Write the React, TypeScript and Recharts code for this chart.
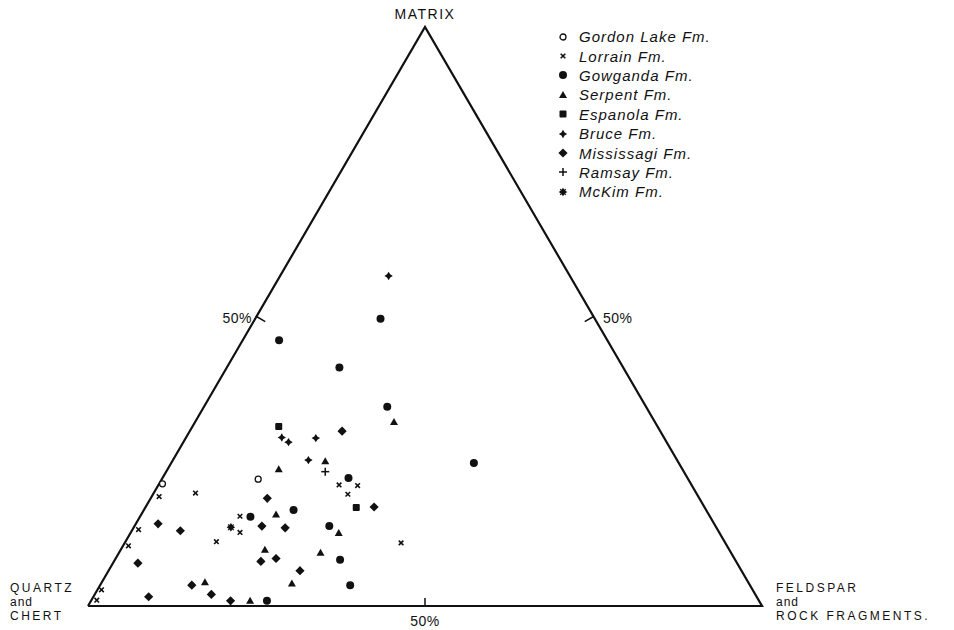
import { ScatterChart, Scatter, XAxis, YAxis, ReferenceLine, Customized } from 'recharts';

// compositions as [feldspar+rock fragments %, matrix %]; quartz+chert = rest
const GORDON_LAKE = [[0.5, 21.1], [14.3, 21.9]];
const LORRAIN = [
  [0.8, 1.0], [0.6, 2.8], [0.8, 10.4], [0.9, 13.2], [1.1, 18.9], [6.2, 19.5], [13.5, 11.1],
  [14.8, 15.5], [16.2, 12.7], [26.8, 20.9], [29.6, 20.8], [28.9, 19.3], [41.0, 10.9],
];
const GOWGANDA = [
  [18.6, 49.6], [5.4, 45.9], [16.7, 41.2], [27.2, 34.4], [44.9, 24.7], [27.6, 22.1],
  [22.2, 16.6], [16.4, 15.4], [28.9, 13.8], [33.4, 8.0], [37.1, 3.6], [26.1, 0.9],
];
const SERPENT = [
  [29.5, 31.8], [22.7, 25.0], [16.5, 23.6], [20.0, 15.8], [30.9, 12.6],
  [21.4, 9.7], [29.9, 9.2], [28.3, 3.9], [15.3, 4.1], [23.6, 0.9],
];
const ESPANOLA = [[12.8, 31.0], [31.3, 17.0]];
const BRUCE = [[16.1, 57.0], [14.2, 29.1], [15.6, 28.3], [19.3, 29.0], [20.1, 25.2]];
const MISSISSAGI = [
  [22.6, 30.2], [33.9, 17.1], [17.3, 18.6], [18.9, 13.8], [22.5, 13.5], [21.8, 7.7],
  [23.8, 8.2], [28.4, 6.1], [17.3, 2.0], [20.7, 0.9], [3.3, 14.2], [7.2, 13.0],
  [3.7, 7.4], [8.2, 1.6], [13.6, 3.6],
];
const RAMSAY = [[23.6, 23.2]];
const MCKIM = [[14.4, 13.6]];

const CORNERS = [[0, 0], [0, 100], [100, 0], [0, 0]];

// ternary -> plot coords (x along base, y = matrix)
const toXY = (pts: number[][]) => pts.map(([f, m]) => ({ x: f + m / 2, y: m }));

const FONT = '"Liberation Sans", Arial, sans-serif';

const OpenCircle = ({ cx, cy }: any) => <circle cx={cx} cy={cy} r={3} fill="#fff" stroke="#111" strokeWidth={1.3} />;
const Cross = ({ cx, cy }: any) => (
  <g stroke="#111" strokeWidth={1.6}>
    <line x1={cx - 2.3} y1={cy - 2.3} x2={cx + 2.3} y2={cy + 2.3} />
    <line x1={cx - 2.3} y1={cy + 2.3} x2={cx + 2.3} y2={cy - 2.3} />
  </g>
);
const Dot = ({ cx, cy }: any) => <circle cx={cx} cy={cy} r={4} fill="#111" />;
const Tri = ({ cx, cy }: any) => (
  <path d={`M${cx},${cy - 4} L${cx + 4},${cy + 3} L${cx - 4},${cy + 3} Z`} fill="#111" />
);
const Sq = ({ cx, cy }: any) => <rect x={cx - 3.5} y={cy - 3.5} width={7} height={7} rx={1} fill="#111" />;
const star = (cx: number, cy: number, r: number, i: number) =>
  `M${cx},${cy - r} L${cx + i},${cy - i} L${cx + r},${cy} L${cx + i},${cy + i} L${cx},${cy + r} L${cx - i},${cy + i} L${cx - r},${cy} L${cx - i},${cy - i} Z`;
const SmallStar = ({ cx, cy }: any) => <path d={star(cx, cy, 4.2, 1.6)} fill="#111" />;
const Diamond = ({ cx, cy }: any) => <path d={star(cx, cy, 4.6, 2.3)} fill="#111" />;
const Plus = ({ cx, cy }: any) => (
  <g stroke="#111" strokeWidth={1.5}>
    <line x1={cx - 4} y1={cy} x2={cx + 4} y2={cy} />
    <line x1={cx} y1={cy - 4} x2={cx} y2={cy + 4} />
  </g>
);
const Asterisk = ({ cx, cy }: any) => (
  <g>
    <path d={star(cx, cy, 4.2, 1.8)} fill="#111" />
    <g stroke="#111" strokeWidth={1.2}>
      <line x1={cx - 2.8} y1={cy - 2.8} x2={cx + 2.8} y2={cy + 2.8} />
      <line x1={cx - 2.8} y1={cy + 2.8} x2={cx + 2.8} y2={cy - 2.8} />
    </g>
  </g>
);
const Nothing = () => <g />;

const SERIES = [
  { name: 'Gordon Lake Fm.', data: GORDON_LAKE, shape: OpenCircle },
  { name: 'Lorrain Fm.', data: LORRAIN, shape: Cross },
  { name: 'Gowganda Fm.', data: GOWGANDA, shape: Dot },
  { name: 'Serpent Fm.', data: SERPENT, shape: Tri },
  { name: 'Espanola Fm.', data: ESPANOLA, shape: Sq },
  { name: 'Bruce Fm.', data: BRUCE, shape: SmallStar },
  { name: 'Mississagi Fm.', data: MISSISSAGI, shape: Diamond },
  { name: 'Ramsay Fm.', data: RAMSAY, shape: Plus },
  { name: 'McKim Fm.', data: MCKIM, shape: Asterisk },
];

const LegendBox = () => (
  <div
    style={{
      position: 'absolute', left: 556, top: 27, width: 220,
      fontFamily: FONT, fontSize: 15, fontStyle: 'italic', letterSpacing: 1, color: '#111',
    }}
  >
    {SERIES.map(s => {
      const Shape = s.shape;
      return (
        <div key={s.name} style={{ display: 'flex', alignItems: 'center', height: 19.4 }}>
          <svg width={14} height={14} style={{ marginRight: 9 }}>
            <Shape cx={7} cy={7} />
          </svg>
          <span>{s.name}</span>
        </div>
      );
    })}
  </div>
);

const Labels = () => (
  <g fontFamily={FONT} fontSize={12} fill="#111" letterSpacing={2.5}>
    <text x={425} y={19} textAnchor="middle" fontSize={14} letterSpacing={1.5}>MATRIX</text>
    <text x={252} y={323} textAnchor="end" fontSize={14} letterSpacing={0.5}>50%</text>
    <text x={603} y={323} fontSize={14} letterSpacing={0.5}>50%</text>
    <text x={425} y={626} textAnchor="middle" fontSize={14} letterSpacing={0.5}>50%</text>
    <text x={10} y={592}>QUARTZ</text>
    <text x={10} y={606} letterSpacing={1}>and</text>
    <text x={10} y={620}>CHERT</text>
    <text x={776} y={592}>FELDSPAR</text>
    <text x={776} y={606} letterSpacing={1}>and</text>
    <text x={776} y={620} letterSpacing={2.5}>ROCK FRAGMENTS.</text>
  </g>
);

export default function App() {
  return (
    <div style={{ position: 'absolute', left: 0, top: 0, width: 954, height: 630, background: '#fff' }}>
      <ScatterChart width={954} height={630} margin={{ top: 27, right: 192, bottom: 24, left: 88 }}>
        <XAxis type="number" dataKey="x" domain={[0, 100]} hide />
        <YAxis type="number" dataKey="y" domain={[0, 100]} hide />
        <Scatter
          data={toXY(CORNERS)}
          line={{ stroke: '#111', strokeWidth: 2.2, strokeLinejoin: 'miter' }}
          shape={Nothing}
          isAnimationActive={false}
        />
        <ReferenceLine segment={[{ x: 25, y: 50 }, { x: 26.3, y: 49.1 }]} stroke="#111" strokeWidth={1.5} ifOverflow="visible" />
        <ReferenceLine segment={[{ x: 75, y: 50 }, { x: 73.7, y: 49.1 }]} stroke="#111" strokeWidth={1.5} ifOverflow="visible" />
        <ReferenceLine segment={[{ x: 50, y: 0 }, { x: 50, y: 1.4 }]} stroke="#111" strokeWidth={1.5} ifOverflow="visible" />
        {SERIES.map(s => (
          <Scatter key={s.name} name={s.name} data={toXY(s.data)} shape={s.shape} isAnimationActive={false} />
        ))}
        <Customized component={<Labels />} />
      </ScatterChart>
      <LegendBox />
    </div>
  );
}
